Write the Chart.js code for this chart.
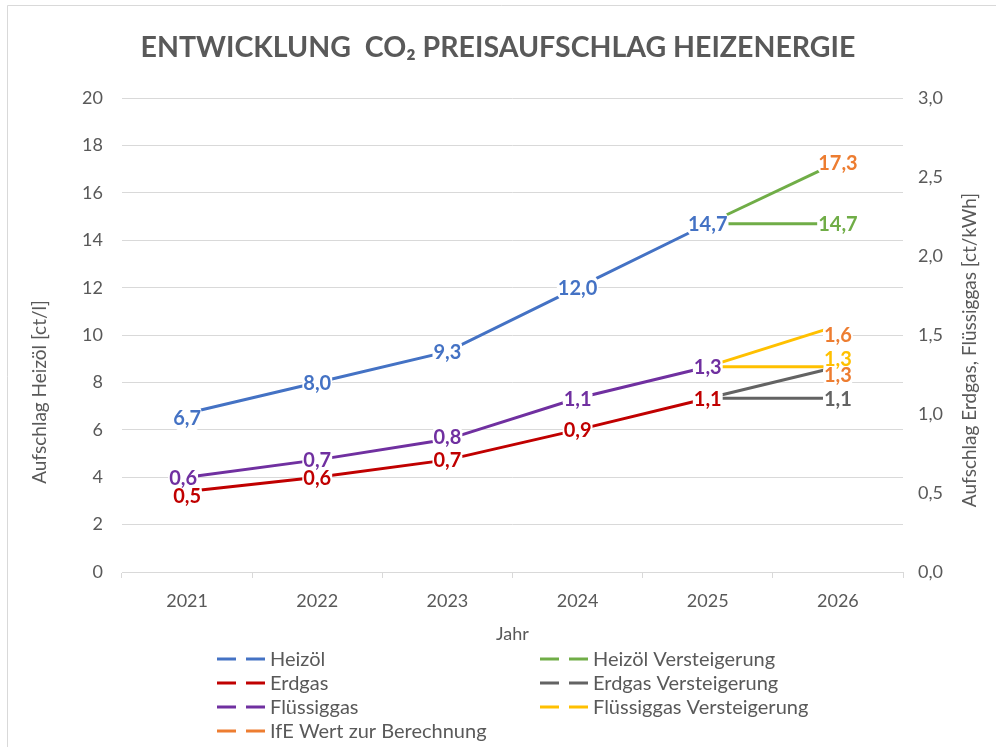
<!DOCTYPE html>
<html><head><meta charset="utf-8">
<script src="https://cdn.jsdelivr.net/npm/chart.js@4.4.1/dist/chart.umd.min.js"></script>
<style>html,body{margin:0;padding:0;background:#fff;}#wrap{width:996px;height:747px;position:relative;}canvas{display:block;}</style>
</head><body><div id="wrap"><canvas id="c" width="996" height="747"></canvas></div>
<script>
// ---- data ----
const categories = ['2021', '2022', '2023', '2024', '2025', '2026'];
const heizoel = [6.7, 8.0, 9.3, 12.0, 14.7, null];
const heizoelVersteigerung = [null, null, null, null, 14.7, 14.7];
const heizoelIfE = [null, null, null, null, 14.7, 17.3];
const erdgas = [0.51, 0.6, 0.71, 0.9, 1.1, null];
const erdgasVersteigerung = [null, null, null, null, 1.1, 1.1];
const erdgasIfE = [null, null, null, null, 1.1, 1.3];
const fluessiggas = [0.6, 0.71, 0.84, 1.1, 1.3, null];
const fluessiggasVersteigerung = [null, null, null, null, 1.3, 1.3];
const fluessiggasIfE = [null, null, null, null, 1.3, 1.56];
const leftTickLabels = ['0', '2', '4', '6', '8', '10', '12', '14', '16', '18', '20'];
const rightTickLabels = ['0,0', '0,5', '1,0', '1,5', '2,0', '2,5', '3,0'];
const leftAxisTitle = 'Aufschlag Heizöl [ct/l]';
const rightAxisTitle = 'Aufschlag Erdgas, Flüssiggas [ct/kWh]';

// ---- style ----
const GREY = '#595959';
const FONT = 'Lato';
const fmt = v => v.toFixed(1).replace('.', ',');

const borderPlugin = {
  id: 'frame',
  beforeDraw(chart) {
    const ctx = chart.ctx;
    ctx.save();
    ctx.fillStyle = '#fff';
    ctx.fillRect(0, 0, chart.width, chart.height);
    ctx.strokeStyle = '#D9D9D9';
    ctx.lineWidth = 1;
    ctx.beginPath();
    ctx.moveTo(7.5, chart.height);
    ctx.lineTo(7.5, 5.5);
    ctx.lineTo(chart.width, 5.5);
    ctx.stroke();
    ctx.restore();
  }
};

// axis titles drawn bottom-to-top on both sides (as in the reference)
const axisTitlePlugin = {
  id: 'axisTitles',
  afterDraw(chart) {
    const ctx = chart.ctx;
    const draw = (text, x, y) => {
      ctx.save();
      ctx.translate(x, y);
      ctx.rotate(-Math.PI / 2);
      ctx.font = '19px ' + FONT;
      ctx.fillStyle = GREY;
      ctx.textAlign = 'center';
      ctx.textBaseline = 'middle';
      ctx.fillText(text, 0, 0);
      ctx.restore();
    };
    draw(leftAxisTitle, 40, 392);
    draw(rightAxisTitle, 970, 350);
  }
};

const valueLabelPlugin = {
  id: 'valueLabels',
  afterDatasetsDraw(chart) {
    const ctx = chart.ctx;
    const items = [];
    chart.data.datasets.forEach((ds, di) => {
      const meta = chart.getDatasetMeta(di);
      (ds.labelAt || []).forEach(i => {
        const v = ds.data[i];
        if (v == null) return;
        const el = meta.data[i];
        const nud = (ds.labelNudge || {})[i] || [0, 0];
        items.push({ x: el.x + nud[0], y: el.y + nud[1], text: fmt(v), color: ds.labelColor || ds.borderColor });
      });
    });
    ctx.save();
    ctx.font = 'bold 20px ' + FONT;
    ctx.fillStyle = '#fff';
    items.forEach(it => {
      const w = ctx.measureText(it.text).width;
      ctx.beginPath();
      ctx.roundRect(it.x - w / 2 - 1, it.y - 14, w + 2, 28, 10);
      ctx.fill();
    });
    ctx.textAlign = 'center';
    ctx.textBaseline = 'middle';
    items.forEach(it => {
      ctx.fillStyle = it.color;
      ctx.fillText(it.text, it.x, it.y + 1);
    });
    ctx.restore();
  }
};

const legendPlugin = {
  id: 'twoColLegend',
  afterDraw(chart) {
    const ctx = chart.ctx;
    const entries = chart.data.datasets.filter(d => !d.hideInLegend);
    const colX = [217, 540];
    const rowY0 = 659, rowH = 24;
    ctx.save();
    ctx.font = '20px ' + FONT;
    ctx.textBaseline = 'middle';
    ctx.textAlign = 'left';
    entries.forEach((d, i) => {
      const x = colX[i % 2];
      const y = rowY0 + Math.floor(i / 2) * rowH;
      ctx.strokeStyle = d.legendColor || d.borderColor;
      ctx.lineWidth = 3;
      ctx.lineCap = 'butt';
      ctx.beginPath();
      ctx.moveTo(x, y); ctx.lineTo(x + 19, y);
      ctx.moveTo(x + 29, y); ctx.lineTo(x + 48, y);
      ctx.stroke();
      ctx.fillStyle = GREY;
      ctx.fillText(d.label, x + 53, y + 1);
    });
    ctx.restore();
  }
};

function build() {
  const main = [0, 1, 2, 3, 4];
  const last = [5];
  const ORANGE = '#ED7D31';
  const datasets = [
    { label: 'Heizöl', data: heizoel, yAxisID: 'y', borderColor: '#4472C4', labelAt: main, labelNudge: { 0: [0, 4] } },
    { label: 'Heizöl Versteigerung', data: heizoelVersteigerung, yAxisID: 'y', borderColor: '#70AD47', labelAt: last },
    { label: 'Erdgas', data: erdgas, yAxisID: 'y1', borderColor: '#C00000', labelAt: main, labelNudge: { 0: [0, 4] } },
    { label: 'Erdgas Versteigerung', data: erdgasVersteigerung, yAxisID: 'y1', borderColor: '#636363', labelAt: last },
    { label: 'Flüssiggas', data: fluessiggas, yAxisID: 'y1', borderColor: '#7030A0', labelAt: main, labelNudge: { 0: [-4, 0], 2: [0, -3] } },
    { label: 'Flüssiggas Versteigerung', data: fluessiggasVersteigerung, yAxisID: 'y1', borderColor: '#FFC000', labelAt: last, labelNudge: { 5: [0, -8] } },
    { label: 'IfE Wert zur Berechnung', data: heizoelIfE, yAxisID: 'y', borderColor: '#70AD47', legendColor: ORANGE, labelColor: ORANGE, labelAt: last },
    { label: 'IfE Wert zur Berechnung', hideInLegend: true, data: erdgasIfE, yAxisID: 'y1', borderColor: '#636363', labelColor: ORANGE, labelAt: last, labelNudge: { 5: [0, 8] } },
    { label: 'IfE Wert zur Berechnung', hideInLegend: true, data: fluessiggasIfE, yAxisID: 'y1', borderColor: '#FFC000', labelColor: ORANGE, labelAt: last, labelNudge: { 5: [0, 9] } }
  ];
  datasets.forEach(d => Object.assign(d, { borderWidth: 3, pointRadius: 0, pointHoverRadius: 0, tension: 0, borderCapStyle: 'butt', fill: false, spanGaps: false }));

  new Chart(document.getElementById('c'), {
    type: 'line',
    data: { labels: categories, datasets },
    options: {
      responsive: false,
      devicePixelRatio: 1,
      animation: false,
      events: [],
      layout: { padding: { left: 0, right: 0, top: 0, bottom: 100 } },
      plugins: {
        legend: { display: false },
        tooltip: { enabled: false },
        title: {
          display: true,
          text: 'ENTWICKLUNG  CO₂ PREISAUFSCHLAG HEIZENERGIE',
          color: GREY,
          font: { family: FONT, size: 28.5, weight: 'bold', lineHeight: 1.2 },
          padding: { top: 31, bottom: 33 }
        }
      },
      scales: {
        x: {
          type: 'category',
          offset: true,
          grid: { display: true, offset: true, drawOnChartArea: false, drawTicks: true, tickLength: 6, color: '#D9D9D9', lineWidth: 1 },
          border: { display: true, color: '#D9D9D9', width: 1 },
          ticks: { font: { family: FONT, size: 18 }, color: GREY, padding: 12, maxRotation: 0 },
          title: { display: true, text: 'Jahr', color: GREY, font: { family: FONT, size: 18 }, padding: { top: 0, bottom: 2 } },
          afterFit(s) { s.height = 75; }
        },
        y: {
          position: 'left',
          min: 0, max: 20,
          afterBuildTicks(s) { s.ticks = leftTickLabels.map(t => ({ value: Number(t) })); },
          ticks: { font: { family: FONT, size: 18 }, color: GREY, padding: 19, callback: (v, i) => leftTickLabels[i] },
          grid: { color: '#D9D9D9', lineWidth: 1, drawTicks: false },
          border: { display: false },
          title: { display: false },
          afterFit(s) { s.width = 122; }
        },
        y1: {
          position: 'right',
          min: 0, max: 3,
          afterBuildTicks(s) { s.ticks = rightTickLabels.map(t => ({ value: Number(t.replace(',', '.')) })); },
          ticks: { font: { family: FONT, size: 18 }, color: GREY, padding: 15, callback: (v, i) => rightTickLabels[i] },
          grid: { display: false, drawTicks: false },
          border: { display: false },
          title: { display: false },
          afterFit(s) { s.width = 93; }
        }
      }
    },
    plugins: [borderPlugin, valueLabelPlugin, legendPlugin, axisTitlePlugin]
  });
}

const ready = (document.fonts && document.fonts.load)
  ? Promise.all([document.fonts.load('18px Lato'), document.fonts.load('bold 20px Lato')]).catch(() => {})
  : Promise.resolve();
let built = false;
const go = () => { if (!built) { built = true; build(); } };
ready.then(go);
setTimeout(go, 1500);
</script>
</body></html>
